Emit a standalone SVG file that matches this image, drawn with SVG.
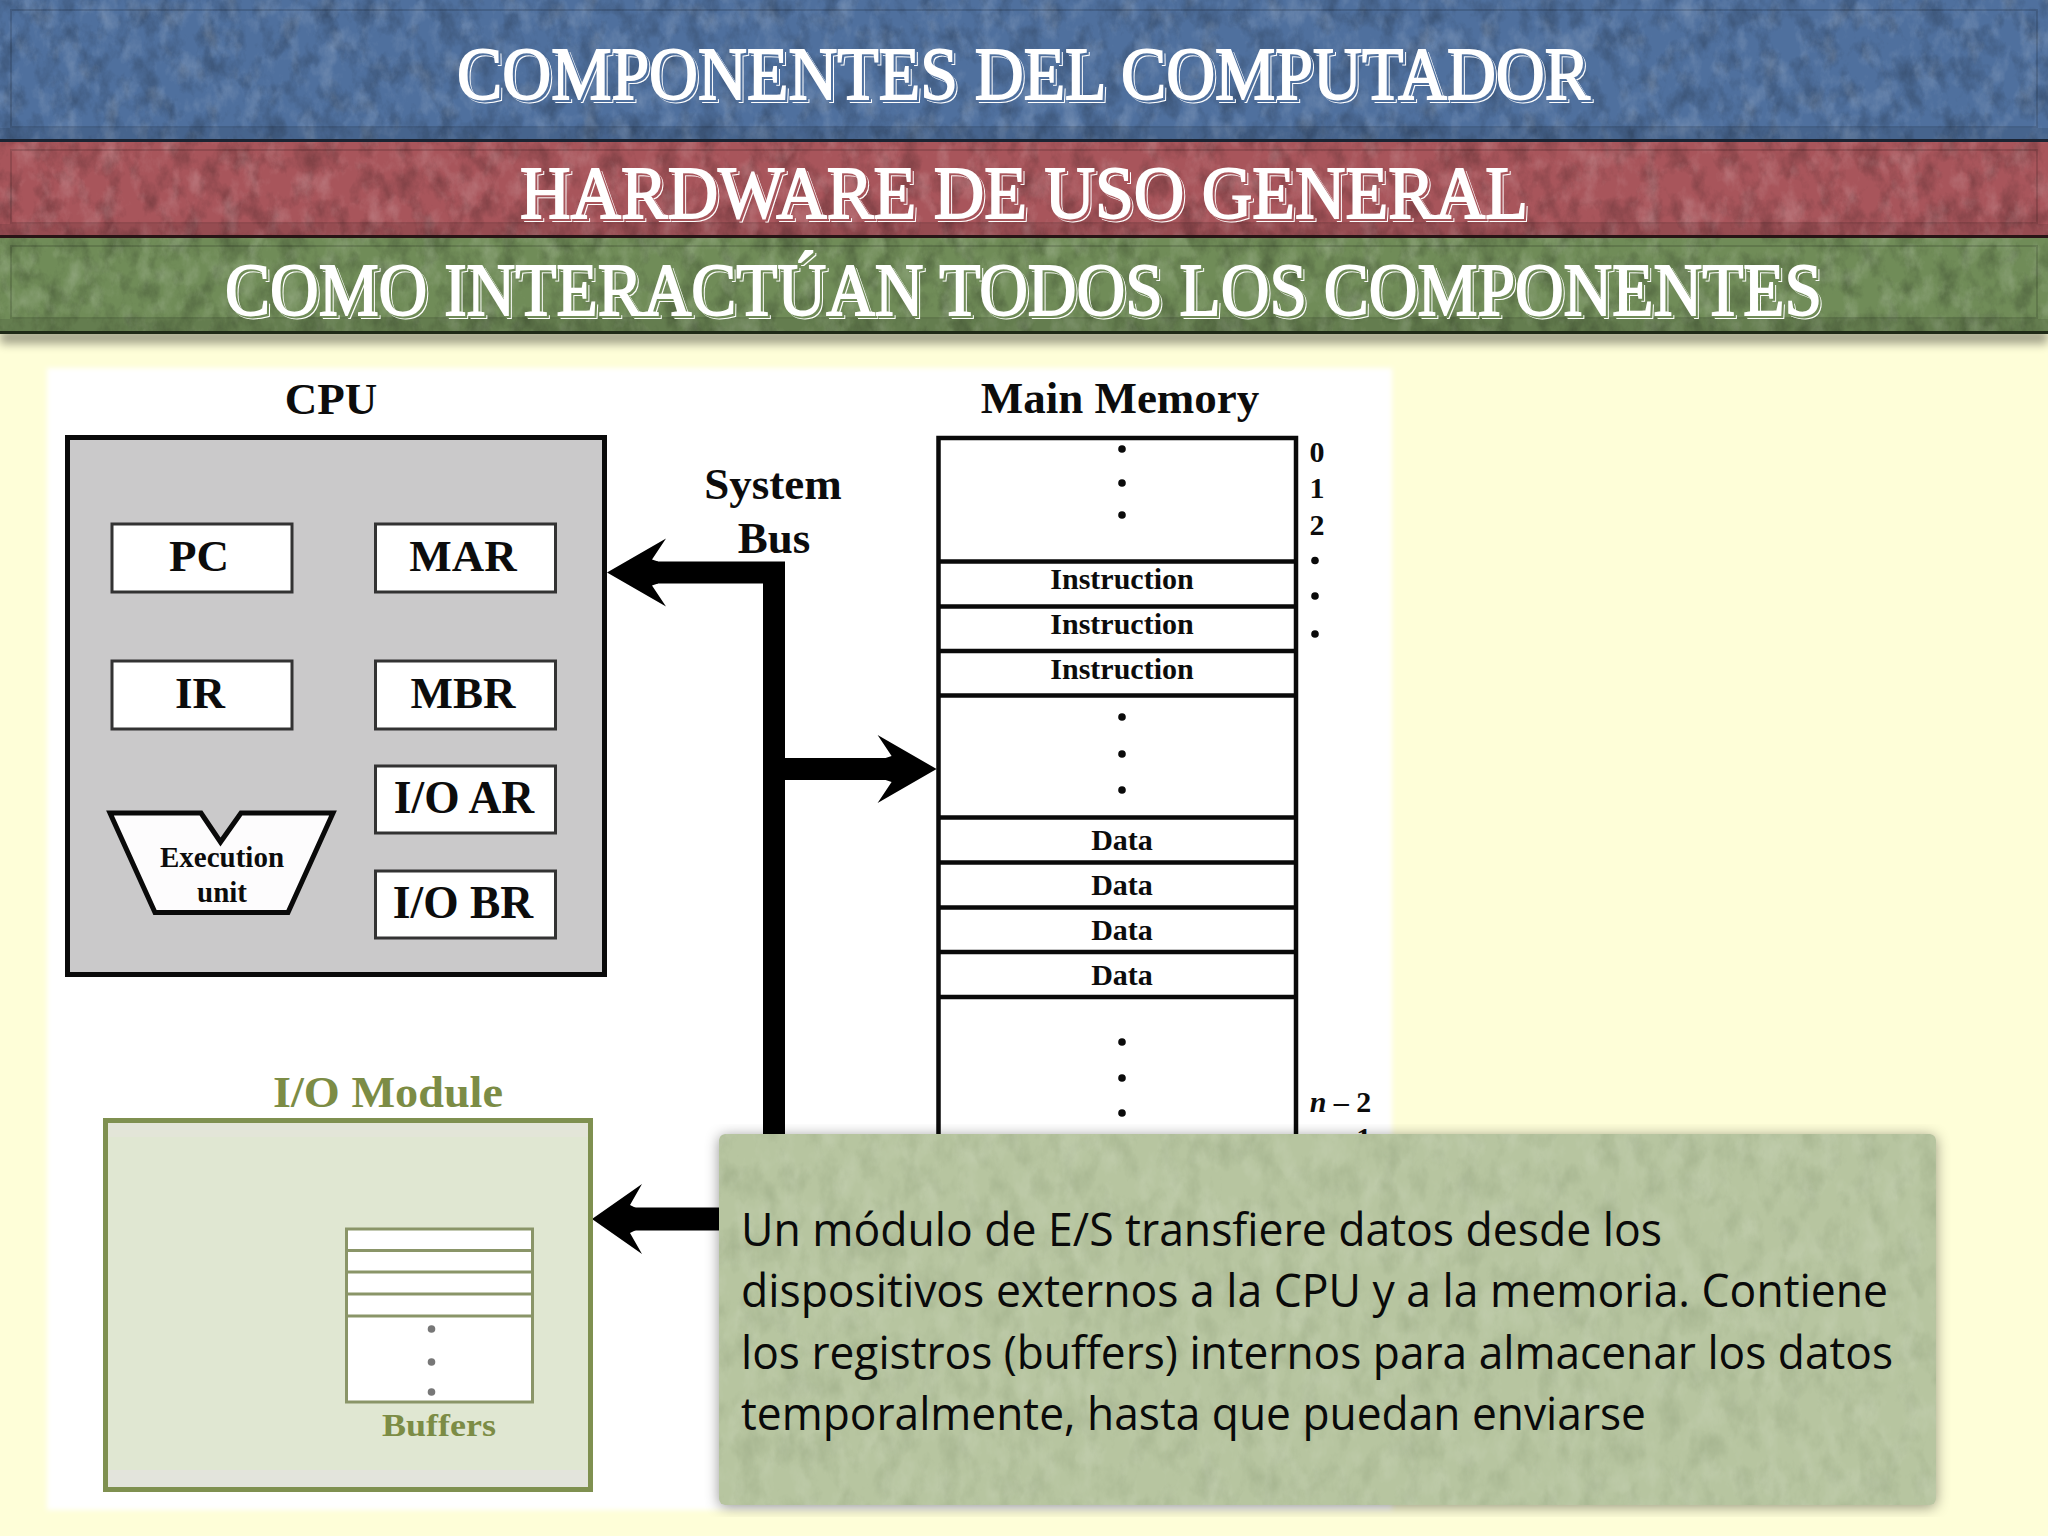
<svg xmlns="http://www.w3.org/2000/svg" width="2048" height="1536" viewBox="0 0 2048 1536">
<style>
.serif{font-family:"Liberation Serif","Times New Roman",serif;font-weight:bold;text-anchor:middle;fill:#0c0c0c}
.reg{fill:#fff;stroke:#333;stroke-width:3}
.cell{fill:#fff;stroke:#0a0a0a;stroke-width:4.5}
.l45{font-size:45px}.l46{font-size:45.5px}.l30{font-size:30px}
.title{font-family:"Liberation Serif","Times New Roman",serif;font-weight:normal;font-size:75px;fill:#fff;stroke:#fff;stroke-width:1.8}
.body{font-family:"Open Sans","Liberation Sans",sans-serif;font-size:45px;fill:#0a0a0a}
.bus{fill:none;stroke:#000;stroke-width:22;stroke-linejoin:miter}
.dot{fill:#0a0a0a}
.io{fill:#7c8c45}
.inner{fill:none;stroke:#000;stroke-opacity:.14;stroke-width:2}
</style>
<defs>
<filter id="tex" x="0" y="0" width="1" height="1" color-interpolation-filters="sRGB">
<feTurbulence type="fractalNoise" baseFrequency="0.05 0.035" numOctaves="5" seed="7" result="n"/>
<feColorMatrix in="n" type="matrix" values="0 0 0 0 0  0 0 0 0 0  0 0 0 0 0  .55 0 0 0 -.24" result="d"/>
<feColorMatrix in="n" type="matrix" values="0 0 0 0 1  0 0 0 0 1  0 0 0 0 1  0 .42 0 0 -.2" result="l"/>
<feMerge result="m"><feMergeNode in="SourceGraphic"/><feMergeNode in="d"/><feMergeNode in="l"/></feMerge>
<feComposite in="m" in2="SourceAlpha" operator="in"/>
</filter>
<filter id="texSoft" x="-3%" y="-3%" width="106%" height="106%" color-interpolation-filters="sRGB">
<feGaussianBlur in="SourceAlpha" stdDeviation="7" result="b"/>
<feOffset in="b" dx="0" dy="2" result="sh"/>
<feFlood flood-color="#000" flood-opacity=".42"/><feComposite in2="sh" operator="in" result="shadow"/>
<feTurbulence type="fractalNoise" baseFrequency="0.05 0.03" numOctaves="5" seed="11" result="n"/>
<feColorMatrix in="n" type="matrix" values="0 0 0 0 .35  0 0 0 0 .42  0 0 0 0 .28  .36 0 0 0 -.16" result="d"/>
<feColorMatrix in="n" type="matrix" values="0 0 0 0 1  0 0 0 0 1  0 0 0 0 1  0 .26 0 0 -.12" result="l"/>
<feMerge result="t"><feMergeNode in="SourceGraphic"/><feMergeNode in="d"/><feMergeNode in="l"/></feMerge>
<feComposite in="t" in2="SourceAlpha" operator="in" result="c"/>
<feMerge><feMergeNode in="shadow"/><feMergeNode in="c"/></feMerge>
</filter>
<filter id="shadowBlur" x="0" y="-100%" width="1" height="300%"><feGaussianBlur stdDeviation="5"/></filter>
<filter id="soft" x="-2%" y="-2%" width="104%" height="104%"><feGaussianBlur stdDeviation="2.5"/></filter>
<filter id="tBlue" x="-3%" y="-40%" width="106%" height="180%" color-interpolation-filters="sRGB">
<feOffset in="SourceAlpha" dx="2.6" dy="2.6" result="a"/><feFlood flood-color="#fff"/><feComposite in2="a" operator="in" result="w"/>
<feOffset in="SourceAlpha" dx="1.5" dy="1.5" result="b"/><feFlood flood-color="#4f709e"/><feComposite in2="b" operator="in" result="g"/>
<feMerge><feMergeNode in="w"/><feMergeNode in="g"/><feMergeNode in="SourceGraphic"/></feMerge>
</filter>
<filter id="tRed" x="-3%" y="-40%" width="106%" height="180%" color-interpolation-filters="sRGB">
<feOffset in="SourceAlpha" dx="2.6" dy="2.6" result="a"/><feFlood flood-color="#fff"/><feComposite in2="a" operator="in" result="w"/>
<feOffset in="SourceAlpha" dx="1.5" dy="1.5" result="b"/><feFlood flood-color="#a8555b"/><feComposite in2="b" operator="in" result="g"/>
<feMerge><feMergeNode in="w"/><feMergeNode in="g"/><feMergeNode in="SourceGraphic"/></feMerge>
</filter>
<filter id="tGreen" x="-3%" y="-40%" width="106%" height="180%" color-interpolation-filters="sRGB">
<feOffset in="SourceAlpha" dx="2.6" dy="2.6" result="a"/><feFlood flood-color="#fff"/><feComposite in2="a" operator="in" result="w"/>
<feOffset in="SourceAlpha" dx="1.5" dy="1.5" result="b"/><feFlood flood-color="#708c58"/><feComposite in2="b" operator="in" result="g"/>
<feMerge><feMergeNode in="w"/><feMergeNode in="g"/><feMergeNode in="SourceGraphic"/></feMerge>
</filter>
<marker id="head" markerUnits="userSpaceOnUse" markerWidth="70" markerHeight="80" viewBox="0 -40 70 80" refX="14" refY="0" orient="auto" overflow="visible">
<path d="M0,-34 L59,0 L0,34 L14,13 L8,11 L8,-11 L14,-13Z" fill="#000"/>
</marker>
<marker id="headIo" markerUnits="userSpaceOnUse" markerWidth="60" markerHeight="80" viewBox="0 -40 60 80" refX="12" refY="0" orient="auto" overflow="visible">
<path d="M0,-35 L50,0 L0,35 L12,14 L6,11 L6,-11 L12,-14Z" fill="#000"/>
</marker>
</defs>

<rect id="background" width="2048" height="1536" fill="#fefed8"/>

<g id="header">
<rect x="0" y="330" width="2048" height="14" fill="#000" opacity=".35" filter="url(#shadowBlur)"/>
<g id="band-blue">
<rect x="0" y="0" width="2048" height="142" fill="#4f709e" filter="url(#tex)"/>
<rect class="inner" x="11" y="10" width="2026" height="117"/>
<rect x="0" y="128" width="2048" height="11" fill="#000" opacity=".1"/>
<rect x="0" y="139" width="2048" height="3" fill="#1b2433"/>
<text class="title" x="457" y="99" textLength="1133" lengthAdjust="spacingAndGlyphs" filter="url(#tBlue)">COMPONENTES DEL COMPUTADOR</text>
</g>
<g id="band-red">
<rect x="0" y="142" width="2048" height="96" fill="#a8555b" filter="url(#tex)"/>
<rect class="inner" x="11" y="150" width="2026" height="73"/>
<rect x="0" y="224" width="2048" height="11" fill="#000" opacity=".1"/>
<rect x="0" y="235" width="2048" height="3" fill="#2a1416"/>
<text class="title" x="520" y="218" textLength="1008" lengthAdjust="spacingAndGlyphs" filter="url(#tRed)">HARDWARE DE USO GENERAL</text>
</g>
<g id="band-green">
<rect x="0" y="238" width="2048" height="96" fill="#708c58" filter="url(#tex)"/>
<rect class="inner" x="11" y="246" width="2026" height="72"/>
<rect x="0" y="319" width="2048" height="12" fill="#000" opacity=".1"/>
<rect x="0" y="331" width="2048" height="3" fill="#1f2a17"/>
<text class="title" x="225" y="315" textLength="1597" lengthAdjust="spacingAndGlyphs" filter="url(#tGreen)">COMO INTERACTÚAN TODOS LOS COMPONENTES</text>
</g>
</g>

<rect id="figure-panel" x="47" y="368" width="1345" height="1142" fill="#fff" filter="url(#soft)"/>

<g id="cpu">
<text class="serif l45" x="331" y="414">CPU</text>
<rect x="67.500" y="437.500" width="537" height="537" fill="#cac9ca" stroke="#0a0a0a" stroke-width="5"/>
</g>
<g id="pc"><rect class="reg" x="112" y="524" width="180" height="68"/><text class="serif l45" x="199" y="571">PC</text></g>
<g id="mar"><rect class="reg" x="375.500" y="524" width="180" height="68"/><text class="serif l45" x="463" y="571">MAR</text></g>
<g id="ir"><rect class="reg" x="112" y="661" width="180" height="68"/><text class="serif l45" x="200" y="708">IR</text></g>
<g id="mbr"><rect class="reg" x="375.500" y="661" width="180" height="68"/><text class="serif l45" x="463" y="708">MBR</text></g>
<g id="io-ar"><rect class="reg" x="375.500" y="766" width="180" height="67"/><text class="serif l46" x="464" y="813">I/O AR</text></g>
<g id="io-br"><rect class="reg" x="375.500" y="871" width="180" height="67"/><text class="serif l46" x="463" y="918">I/O BR</text></g>
<g id="execution-unit">
<polygon points="110,813 201,813 220.500,842 241,813 333,813 288,912.500 155,912.500" fill="#fdfcfd" stroke="#0a0a0a" stroke-width="5"/>
<text class="serif" font-size="29" x="222" y="867">Execution</text>
<text class="serif" font-size="29" x="222" y="902">unit</text>
</g>

<g id="main-memory">
<text class="serif l45" x="1120" y="413">Main Memory</text>
<rect class="cell" x="938.500" y="438" width="357.500" height="720"/>
<path d="M939,561.500H1296M939,606.500H1296M939,651H1296M939,695.500H1296M939,817.500H1296M939,862.500H1296M939,907.500H1296M939,952H1296M939,997H1296" stroke="#0a0a0a" stroke-width="4.500" fill="none"/>
<g class="dot">
<circle cx="1122" cy="449" r="3.800"/><circle cx="1122" cy="483" r="3.800"/><circle cx="1122" cy="515" r="3.800"/>
<circle cx="1122" cy="717" r="3.800"/><circle cx="1122" cy="754" r="3.800"/><circle cx="1122" cy="790" r="3.800"/>
<circle cx="1122" cy="1042" r="3.800"/><circle cx="1122" cy="1078" r="3.800"/><circle cx="1122" cy="1113" r="3.800"/>
<circle cx="1315" cy="560.500" r="3.800"/><circle cx="1315" cy="596" r="3.800"/><circle cx="1315" cy="634" r="3.800"/>
</g>
<text class="serif l30" x="1122" y="589">Instruction</text>
<text class="serif l30" x="1122" y="634">Instruction</text>
<text class="serif l30" x="1122" y="678.500">Instruction</text>
<text class="serif l30" x="1122" y="850">Data</text>
<text class="serif l30" x="1122" y="895">Data</text>
<text class="serif l30" x="1122" y="939.500">Data</text>
<text class="serif l30" x="1122" y="984.500">Data</text>
<text class="serif" font-size="30" x="1317" y="462">0</text>
<text class="serif" font-size="30" x="1317" y="498">1</text>
<text class="serif" font-size="30" x="1317" y="535">2</text>
<text class="serif" font-size="30" x="1340.500" y="1112"><tspan font-style="italic">n</tspan> – 2</text>
<text class="serif" font-size="30" x="1340.500" y="1148"><tspan font-style="italic">n</tspan> – 1</text>
</g>

<g id="system-bus-label">
<text class="serif l45" x="773" y="499">System</text>
<text class="serif l45" x="774" y="553">Bus</text>
</g>

<g id="connectors">
<path class="bus" d="M774,1150V572.500H652" marker-end="url(#head)"/>
<path class="bus" d="M785,769H891.600" marker-end="url(#head)"/>
<path class="bus" style="stroke-width:23" d="M730,1219H630" marker-end="url(#headIo)"/>
</g>

<g id="io-module">
<text class="serif io" font-size="44" x="273" y="1107" textLength="230" lengthAdjust="spacingAndGlyphs" style="text-anchor:start">I/O Module</text>
<rect x="105.500" y="1120.500" width="485" height="369" fill="#e0e7d2" stroke="#7f9050" stroke-width="5"/>
<rect x="108" y="1470" width="480" height="17" fill="#e3e4dc"/>
<rect x="108" y="1123" width="480" height="14" fill="#e3e5d8"/>
</g>
<g id="buffers">
<rect x="346.500" y="1229" width="186" height="173" fill="#fff" stroke="#8a9568" stroke-width="3"/>
<path d="M346.500,1250.500H532.500M346.500,1272H532.500M346.500,1294H532.500M346.500,1316H532.500" stroke="#8a9568" stroke-width="3" fill="none"/>
<circle cx="431.500" cy="1329" r="3.800" fill="#777"/><circle cx="431.500" cy="1362" r="3.800" fill="#777"/><circle cx="431.500" cy="1392" r="3.800" fill="#777"/>
<text class="serif io" font-size="32" x="382" y="1436" textLength="114" lengthAdjust="spacingAndGlyphs" style="text-anchor:start">Buffers</text>
</g>

<g id="note">
<rect x="719" y="1134" width="1217" height="371" rx="6" fill="#b7c5a0" filter="url(#texSoft)"/>
<text class="body" x="741" y="1245.500" textLength="921" lengthAdjust="spacingAndGlyphs">Un módulo de E/S transfiere datos desde los</text>
<text class="body" x="741" y="1307" textLength="1147" lengthAdjust="spacingAndGlyphs">dispositivos externos a la CPU y a la memoria. Contiene</text>
<text class="body" x="741" y="1368.500" textLength="1152" lengthAdjust="spacingAndGlyphs">los registros (buffers) internos para almacenar los datos</text>
<text class="body" x="741" y="1429.500" textLength="905" lengthAdjust="spacingAndGlyphs">temporalmente, hasta que puedan enviarse</text>
</g>
</svg>
